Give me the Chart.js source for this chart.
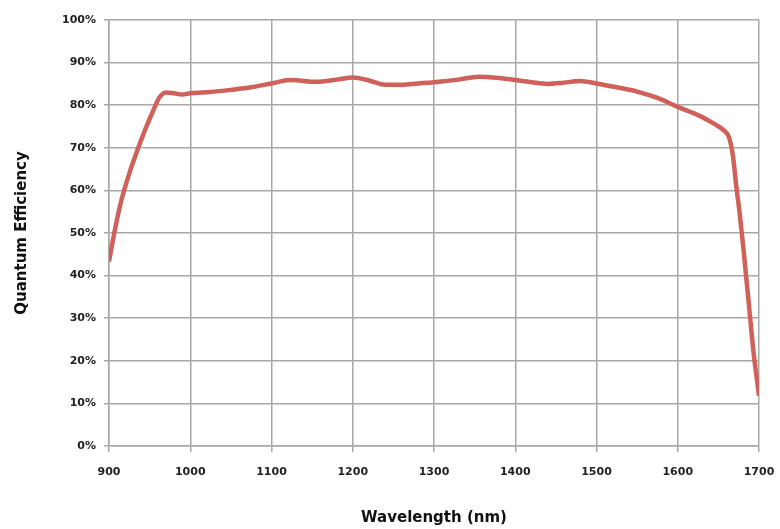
<!DOCTYPE html>
<html>
<head>
<meta charset="utf-8">
<script src="https://cdn.jsdelivr.net/npm/chart.js@4.4.1/dist/chart.umd.min.js"></script>
<style>
  html, body { margin: 0; padding: 0; background: #fff; }
  #wrap { position: relative; width: 780px; height: 529px; }
</style>
</head>
<body>
<div id="wrap"><canvas id="c-qe"></canvas></div>
<script>
// values
const wavelengths = [900, 907, 915, 925, 935, 945, 955, 962, 970, 980, 990, 1000, 1025, 1050, 1075, 1100,
  1123, 1155, 1180, 1200, 1220, 1240, 1260, 1280, 1300, 1330, 1355, 1380, 1400, 1420, 1440, 1460,
  1480, 1500, 1525, 1550, 1575, 1600, 1627, 1645, 1656, 1663, 1668, 1672, 1676, 1681, 1687, 1693, 1700];
const qe = [43.3, 50.5, 57.5, 64, 69.5, 74.5, 79, 81.8, 83, 82.8, 82.5, 82.8, 83.1, 83.6, 84.2, 85.1,
  85.9, 85.5, 86, 86.5, 85.8, 84.8, 84.8, 85.1, 85.4, 86, 86.7, 86.4, 85.9, 85.4, 85, 85.3,
  85.7, 85.1, 84.2, 83.2, 81.7, 79.6, 77.5, 75.6, 74.2, 72.5, 68, 61, 55, 46, 34.3, 22.5, 11.8];

const xTitle = "Wavelength (nm)";
const yTitle = "Quantum Efficiency";

const gridCol = "#a8a8a8";
const tickFont = { family: "DejaVu Sans", size: 11, weight: "bold" };
const titleFont = { family: "DejaVu Sans", size: 15, weight: "bold" };

const pts = wavelengths.map((x, i) => ({ x, y: qe[i] }));

new Chart(document.getElementById("c-qe"), {
  type: "line",
  data: {
    datasets: [{
      label: "QE",
      data: pts,
      borderColor: "#d0605a",
      borderWidth: 4.5,
      pointRadius: 0,
      cubicInterpolationMode: "monotone",
      fill: false,
    }],
  },
  options: {
    responsive: true,
    maintainAspectRatio: false,
    animation: false,
    layout: { padding: { top: 20, right: 21, bottom: 0, left: 0 } },
    plugins: { legend: { display: false }, tooltip: { enabled: false } },
    scales: {
      x: {
        type: "linear",
        min: 900,
        max: 1700,
        ticks: { stepSize: 100, color: "#222", font: tickFont, padding: 14, maxRotation: 0, callback: (v) => String(v) },
        grid: { color: gridCol, lineWidth: 1.5, tickLength: 6 },
        border: { color: gridCol, width: 1.5 },
        title: { display: true, text: xTitle, color: "#111", font: titleFont, padding: { top: 0, bottom: 2 } },
        afterFit: (s) => { s.height = 83; s.paddingRight = 0; s.paddingLeft = 0; },
      },
      y: {
        min: 0,
        max: 100,
        ticks: { stepSize: 10, color: "#222", font: tickFont, padding: 8, callback: (v) => v + "%" },
        grid: { color: gridCol, lineWidth: 1.5, tickLength: 5 },
        border: { color: gridCol, width: 1.5 },
        title: { display: true, text: yTitle, color: "#111", font: titleFont, padding: { top: 13, bottom: 0 } },
        afterFit: (s) => { s.width = 109; },
      },
    },
  },
});
</script>
</body>
</html>
